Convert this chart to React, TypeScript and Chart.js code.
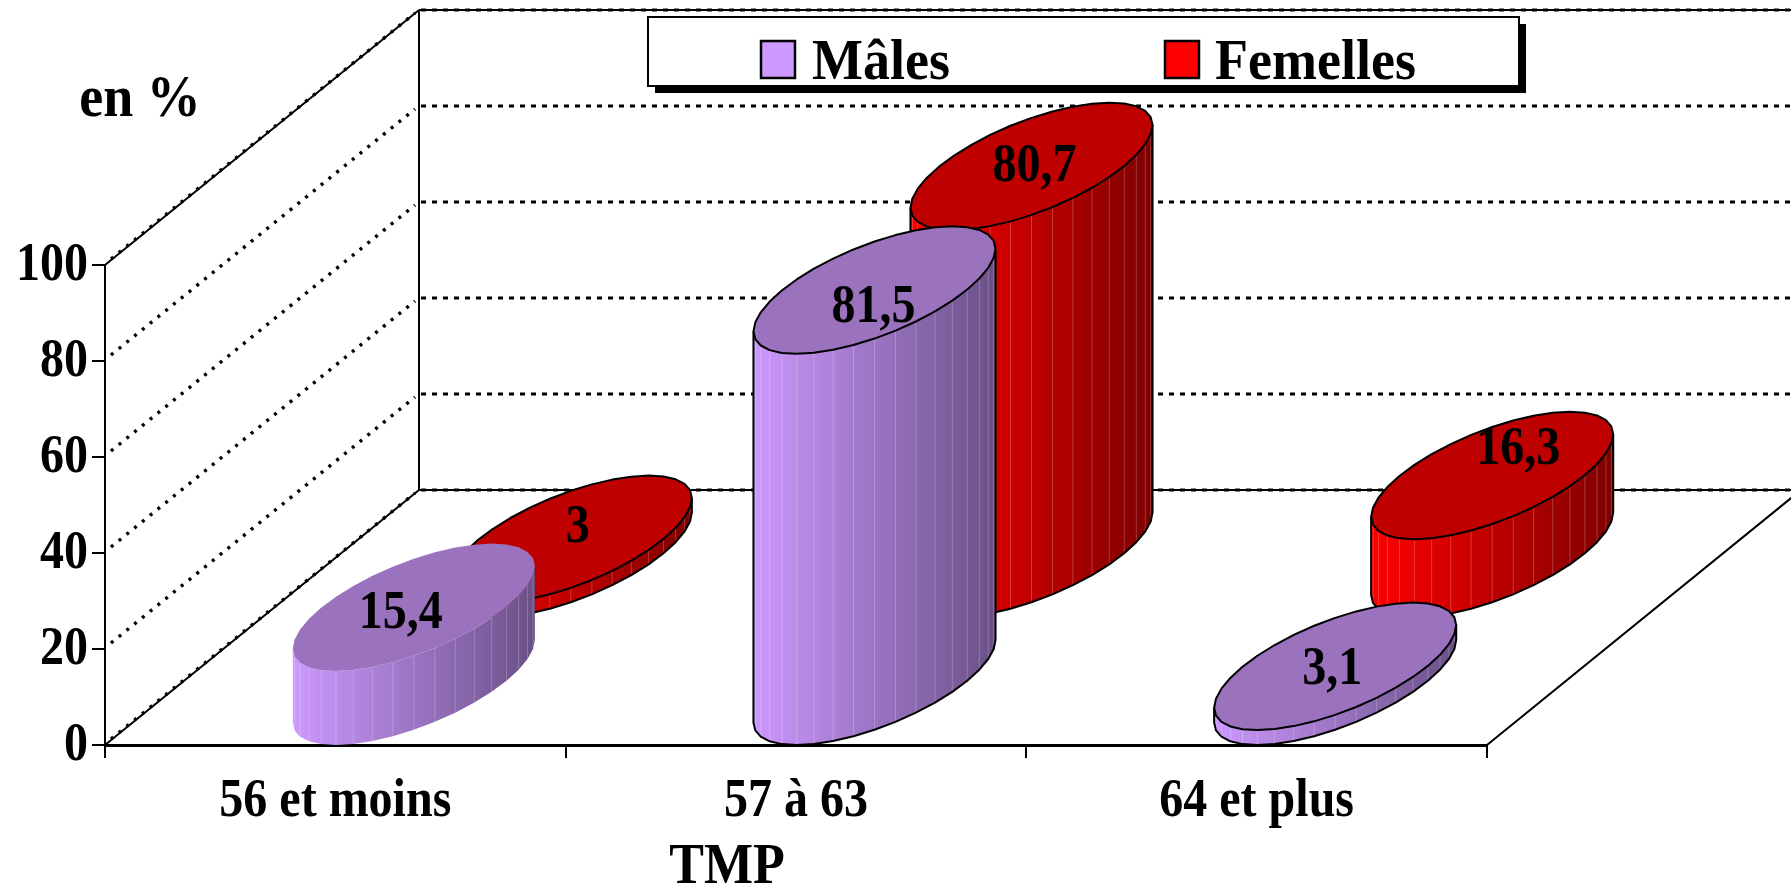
import React, { useEffect, useRef } from "react";
import { Chart, registerables } from "chart.js";

Chart.register(...registerables);

const categories = ["56 et moins", "57 à 63", "64 et plus"];
const males = [15.4, 81.5, 3.1];
const femelles = [3, 80.7, 16.3];
const maleLabels = ["15,4", "81,5", "3,1"];
const femaleLabels = ["3", "80,7", "16,3"];
const yTicks = [0, 20, 40, 60, 80, 100];

// style / layout constants
const FONT = '"Liberation Serif", "Times New Roman", serif';
const W = 1791;
const H = 887;
const AREA = { left: 105, right: 1487, top: 265, bottom: 745 };
const DEPTH_X = 314;
const DEPTH_Y = 255;
const FACETS = 18;
const TEXT_STRETCH = 1.13;
const maleStyle = { light: "#CC99FF", dark: "#6A5086", top: "#9B72BD" };
const femaleStyle = { light: "#FF0000", dark: "#7E0000", top: "#BE0000" };
const maleOutline = [false, true, true];
const femaleOutline = [true, true, true];
const maleNudge = [[-13, 7], [-1, 18], [-3, 4]];
const femaleNudge = [[7, -11], [3, 1], [26, -26]];

// real canvas text, slightly taller than wide like the reference's type
function tallText(ctx: CanvasRenderingContext2D, text: string, x: number, y: number, stretch = TEXT_STRETCH) {
  ctx.save();
  ctx.translate(x, y);
  ctx.scale(1, stretch);
  ctx.fillText(text, 0, 0);
  ctx.restore();
}

function cylinder(
  ctx: CanvasRenderingContext2D,
  cx: number,
  baseY: number,
  topY: number,
  ru: number,
  style: { light: string; dark: string; top: string },
  outline: boolean
) {
  const rx = 0.25 * DEPTH_X;
  const ry = 0.25 * DEPTH_Y;
  const phi = Math.atan2(rx, ru);
  const pt = (t: number, y: number): [number, number] => [
    cx + ru * Math.cos(t) + rx * Math.sin(t),
    y - ry * Math.sin(t),
  ];
  const front: number[] = [];
  for (let k = 0; k <= FACETS; k++) front.push(phi + Math.PI + (k * Math.PI) / FACETS);
  const back: number[] = [];
  for (let k = 1; k < FACETS; k++) back.push(phi + (k * Math.PI) / FACETS);

  const xMin = pt(front[0], 0)[0];
  const xMax = pt(front[FACETS], 0)[0];

  const grad = ctx.createLinearGradient(xMin, 0, xMax, 0);
  grad.addColorStop(0, style.light);
  grad.addColorStop(1, style.dark);
  const sidePath = new Path2D();
  front.forEach((t, i) => {
    const p = pt(t, baseY);
    if (i === 0) sidePath.moveTo(p[0], p[1]);
    else sidePath.lineTo(p[0], p[1]);
  });
  [...front].reverse().forEach((t) => {
    const p = pt(t, topY);
    sidePath.lineTo(p[0], p[1]);
  });
  sidePath.closePath();
  ctx.fillStyle = grad;
  ctx.fill(sidePath);

  ctx.strokeStyle = "rgba(255,255,255,0.22)";
  ctx.lineWidth = 1;
  ctx.setLineDash([]);
  front.slice(1, -1).forEach((t) => {
    const a = pt(t, baseY);
    const b = pt(t, topY);
    ctx.beginPath();
    ctx.moveTo(a[0], a[1]);
    ctx.lineTo(b[0], b[1]);
    ctx.stroke();
  });

  const capPath = new Path2D();
  [...front, ...back].forEach((t, i) => {
    const p = pt(t, topY);
    if (i === 0) capPath.moveTo(p[0], p[1]);
    else capPath.lineTo(p[0], p[1]);
  });
  capPath.closePath();
  ctx.fillStyle = style.top;
  ctx.fill(capPath);

  if (outline) {
    ctx.strokeStyle = "#000";
    ctx.lineWidth = 2;
    ctx.lineJoin = "round";
    ctx.stroke(capPath);
    const o = new Path2D();
    const s = pt(front[0], topY);
    o.moveTo(s[0], s[1]);
    front.forEach((t) => {
      const p = pt(t, baseY);
      o.lineTo(p[0], p[1]);
    });
    const e = pt(front[FACETS], topY);
    o.lineTo(e[0], e[1]);
    ctx.stroke(o);
  }
}

const walls = {
  id: "walls",
  beforeDatasetsDraw(chart: any) {
    const { ctx, scales } = chart;
    const y = scales.y;
    const left = chart.chartArea.left;
    const right = chart.chartArea.right;
    const bottom = y.getPixelForValue(0);
    const top = y.getPixelForValue(100);
    ctx.save();
    ctx.strokeStyle = "#000";
    ctx.lineWidth = 2;
    ctx.beginPath();
    ctx.moveTo(left + DEPTH_X, top - DEPTH_Y);
    ctx.lineTo(left + DEPTH_X, bottom - DEPTH_Y);
    ctx.lineTo(W, bottom - DEPTH_Y);
    ctx.moveTo(left + DEPTH_X, top - DEPTH_Y);
    ctx.lineTo(W, top - DEPTH_Y);
    ctx.moveTo(left, bottom);
    ctx.lineTo(left + DEPTH_X, bottom - DEPTH_Y);
    ctx.moveTo(left, top);
    ctx.lineTo(left + DEPTH_X, top - DEPTH_Y);
    ctx.moveTo(right, bottom);
    ctx.lineTo(right + DEPTH_X, bottom - DEPTH_Y);
    ctx.stroke();

    ctx.lineCap = "butt";
    yTicks.forEach((v) => {
      const py = y.getPixelForValue(v);
      ctx.setLineDash([5, 6]);
      ctx.lineWidth = 3;
      ctx.beginPath();
      ctx.moveTo(left + DEPTH_X + 2, py - DEPTH_Y);
      ctx.lineTo(W, py - DEPTH_Y);
      ctx.stroke();
      ctx.setLineDash([3, 7]);
      ctx.lineWidth = 3.4;
      ctx.beginPath();
      ctx.moveTo(left + 6, py - 6);
      ctx.lineTo(left + DEPTH_X - 4, py - DEPTH_Y + 3);
      ctx.stroke();
    });
    ctx.restore();
  },
};

const cylinders = {
  id: "cylinders",
  afterDatasetsDraw(chart: any) {
    const { ctx, scales } = chart;
    const x = scales.x;
    const y = scales.y;
    const ru = 0.2 * (x.getPixelForTick(1) - x.getPixelForTick(0));
    const series = [
      { values: femelles, labels: femaleLabels, depth: 0.75, style: femaleStyle, outline: femaleOutline, nudge: femaleNudge },
      { values: males, labels: maleLabels, depth: 0.25, style: maleStyle, outline: maleOutline, nudge: maleNudge },
    ];
    ctx.save();
    series.forEach((s) => {
      s.values.forEach((v, i) => {
        const cx = x.getPixelForValue(i) + s.depth * DEPTH_X;
        const base = y.getPixelForValue(0) - s.depth * DEPTH_Y;
        const top = base - (y.getPixelForValue(0) - y.getPixelForValue(v));
        cylinder(ctx, cx, base, top, ru, s.style, s.outline[i]);
      });
    });
    ctx.fillStyle = "#000";
    ctx.font = `bold 48px ${FONT}`;
    ctx.textAlign = "center";
    ctx.textBaseline = "middle";
    series.forEach((s) => {
      s.values.forEach((v, i) => {
        const cx = x.getPixelForValue(i) + s.depth * DEPTH_X;
        const base = y.getPixelForValue(0) - s.depth * DEPTH_Y;
        const top = base - (y.getPixelForValue(0) - y.getPixelForValue(v));
        tallText(ctx, s.labels[i], cx + s.nudge[i][0], top + s.nudge[i][1]);
      });
    });
    ctx.restore();
  },
};

const annotations = {
  id: "annotations",
  afterDraw(chart: any) {
    const { ctx, scales } = chart;
    ctx.save();
    // axis tick labels, from the scales
    ctx.fillStyle = "#000";
    ctx.font = `bold 48px ${FONT}`;
    ctx.textBaseline = "middle";
    ctx.textAlign = "right";
    scales.y.ticks.forEach((t: any) => {
      tallText(ctx, String(t.value), 88, scales.y.getPixelForValue(t.value) + 1);
    });
    ctx.textAlign = "center";
    categories.forEach((c, i) => {
      tallText(ctx, scales.x.getLabelForValue(i), scales.x.getPixelForValue(i), 802);
    });

    // legend frame
    ctx.fillStyle = "#000";
    ctx.fillRect(655, 24, 871, 69);
    ctx.fillStyle = "#fff";
    ctx.fillRect(648, 17, 871, 69);
    ctx.strokeStyle = "#000";
    ctx.lineWidth = 2;
    ctx.strokeRect(648, 17, 871, 69);
    const items = [
      { box: 761, text: 812, label: chart.data.datasets[0].label, color: maleStyle.light },
      { box: 1165, text: 1215, label: chart.data.datasets[1].label, color: femaleStyle.light },
    ];
    ctx.font = `bold 54px ${FONT}`;
    ctx.textBaseline = "alphabetic";
    ctx.textAlign = "left";
    items.forEach((it) => {
      ctx.fillStyle = it.color;
      ctx.fillRect(it.box, 41, 34, 37);
      ctx.lineWidth = 2.5;
      ctx.strokeRect(it.box, 41, 34, 37);
      ctx.fillStyle = "#000";
      tallText(ctx, it.label, it.text, 79, 1.05);
    });
    ctx.textAlign = "center";
    ctx.font = `bold 52px ${FONT}`;
    tallText(ctx, "TMP", 727, 883, 1.08);
    ctx.font = `bold 54px ${FONT}`;
    tallText(ctx, "en %", 140, 116, 1.08);
    ctx.restore();
  },
};

export default function App() {
  const ref = useRef<HTMLCanvasElement>(null);
  useEffect(() => {
    document.body.style.margin = "0";
    const chart = new Chart(ref.current as HTMLCanvasElement, {
      type: "bar",
      data: {
        labels: categories,
        datasets: [
          { label: "Mâles", data: males, backgroundColor: "rgba(0,0,0,0)" },
          { label: "Femelles", data: femelles, backgroundColor: "rgba(0,0,0,0)" },
        ],
      },
      options: {
        animation: false,
        responsive: false,
        devicePixelRatio: 1,
        layout: { padding: { left: 0, right: W - AREA.right, top: AREA.top, bottom: 0 } },
        plugins: { legend: { display: false }, title: { display: false }, tooltip: { enabled: false } },
        scales: {
          x: {
            afterFit: (s: any) => { s.height = H - AREA.bottom; },
            grid: { drawOnChartArea: false, drawTicks: true, tickLength: 13, color: "#000", lineWidth: 2 },
            border: { display: true, color: "#000", width: 3 },
            ticks: { display: false },
          },
          y: {
            min: 0,
            max: 100,
            afterFit: (s: any) => { s.width = AREA.left; },
            afterBuildTicks: (s: any) => { s.ticks = yTicks.map((value) => ({ value })); },
            grid: { drawOnChartArea: false, drawTicks: true, tickLength: 13, color: "#000", lineWidth: 2 },
            border: { display: true, color: "#000", width: 2 },
            ticks: { display: false },
          },
        },
      },
      plugins: [walls, cylinders, annotations],
    } as any);
    return () => chart.destroy();
  }, []);
  return <canvas ref={ref} width={W} height={H} style={{ display: "block", width: W, height: H }} />;
}
